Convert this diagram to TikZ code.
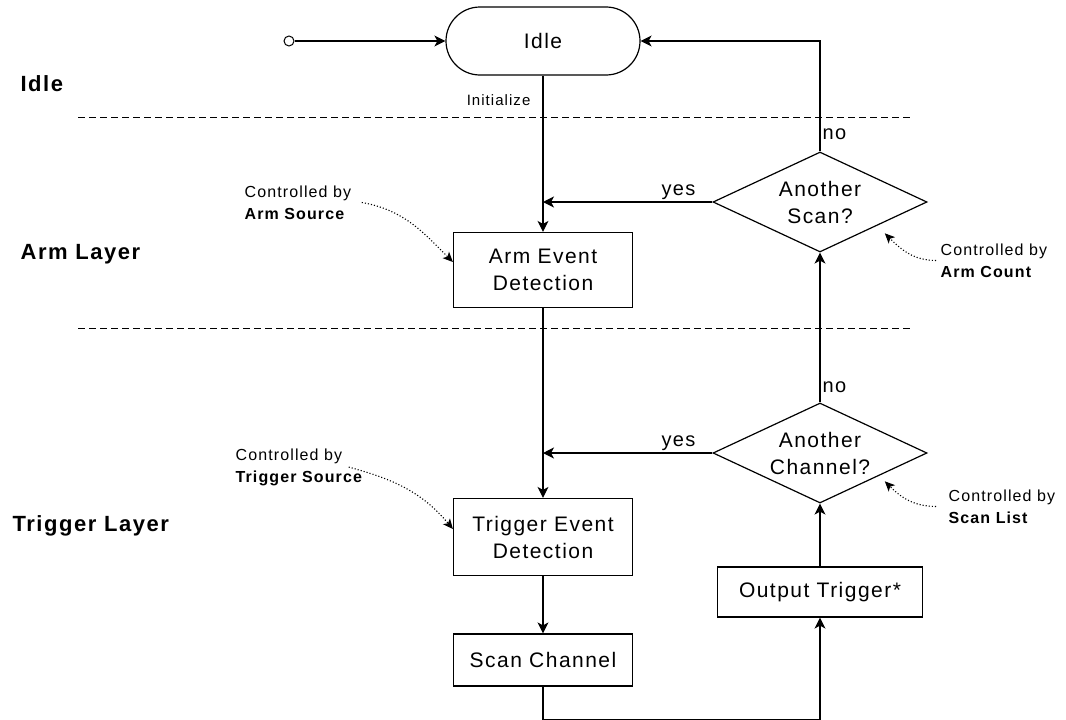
\documentclass[tikz,border=0pt]{standalone}
\usepackage{fontspec}
\setmainfont{Liberation Sans}[LetterSpace=7]
\usepackage{tikz}
\usetikzlibrary{arrows.meta,positioning,shapes.geometric}
\newcommand{\boxfont}{\fontsize{21}{27}\selectfont}
\newcommand{\notefont}{\fontsize{16}{22}\selectfont}
\newcommand{\lblfont}{\fontsize{20}{24}\selectfont}
\newcommand{\layerfont}{\fontsize{22}{26}\selectfont\bfseries}

\begin{document}
\begin{tikzpicture}[x=1pt, y=1pt, line width=1.2pt,
  every node/.style={font=\boxfont},
  block/.style={draw, minimum width=179pt, align=center, inner sep=0pt},
  decision/.style={draw, diamond, aspect=2.14, minimum width=214pt, minimum height=100pt, inner sep=0pt, align=center},
  flow/.style={-{Stealth[length=11pt, width=11pt, inset=3pt]}},
  note/.style={dotted, line width=1.1pt, -{Stealth[length=10pt, width=9pt, inset=2.5pt]}},
  notetext/.style={font=\notefont, align=left, anchor=north west, inner sep=0pt},
  layer/.style={font=\layerfont, anchor=base west, inner sep=0pt},
  lbl/.style={font=\lblfont, inner sep=2pt}]
\fill[white] (0,0) rectangle (1066,-720);
\useasboundingbox (0,0) rectangle (1066,-720);
% layer separators
\foreach \y in {117,328}{
  \draw[line width=1pt, dash pattern=on 7pt off 4pt] (78,-\y) -- (910,-\y);
}
% layer names
\node[layer] (lidle) at (20,-91) {Idle};
\node[layer] (larm) at (20,-259) {Arm Layer};
\node[layer] (ltrig) at (12,-531) {Trigger Layer};
% states
\node[circle, draw, line width=1pt, minimum size=10pt, inner sep=0pt] (start) at (289,-41) {};
\node[draw, rounded corners=34pt, minimum width=194pt, minimum height=68pt] (idle) at (543,-41) {Idle};
\node[block, minimum height=75pt] (armdet) at (543,-270) {Arm Event\\Detection};
\node[block, minimum height=77pt] (trigdet) at (543,-537) {Trigger Event\\Detection};
\node[block, minimum height=52pt] (scanch) at (543,-660) {Scan Channel};
\node[block, minimum width=205pt, minimum height=50pt] (outtrig) at (820,-592) {Output Trigger*};
\node[decision] (morescan) at (820,-202) {Another\\Scan?};
\node[decision] (morechan) at (820,-453) {Another\\Channel?};
% main flow
\draw[flow] (start) -- (idle.west);
\draw[flow] (idle) -- node[lbl, pos=0.16, left=10pt, font=\fontsize{15}{18}\selectfont] {Initialize} (armdet);
\draw[flow] (armdet) -- (trigdet);
\draw[flow] (trigdet) -- (scanch);
\draw[flow] (scanch.south) -- ++(0,-33) -| (outtrig.south);
\draw[flow] (outtrig) -- (morechan);
\draw[flow] (morechan.north) -- node[lbl, pos=0.1, right] {no} (morescan.south);
\draw[flow] (morechan.west) -- node[lbl, pos=0.2, above] {yes} (trigdet.north |- morechan.west);
\draw[flow] (morescan.west) -- node[lbl, pos=0.2, above] {yes} (armdet.north |- morescan.west);
\draw[flow] (morescan.north) |- node[lbl, pos=0.08, right] {no} (idle.east);
% who controls what
\node[notetext] (armsrc) at (244,-185) {Controlled by\\\textbf{Arm Source}};
\node[notetext] (trgsrc) at (235,-448) {Controlled by\\\textbf{Trigger Source}};
\node[notetext] (armcnt) at (940,-243) {Controlled by\\\textbf{Arm Count}};
\node[notetext] (scnlst) at (948,-489) {Controlled by\\\textbf{Scan List}};
\draw[note] ([xshift=10pt]armsrc.east) to[out=-10, in=135] ([yshift=8pt]armdet.west);
\draw[note] ([shift={(-15pt,0pt)}]trgsrc.east) to[out=-15, in=130] ([yshift=8pt]trigdet.west);
\draw[note] ([xshift=-4pt]armcnt.west) to[out=180, in=-45] ([shift={(11pt,-6pt)}]morescan.south east);
\draw[note] ([xshift=-12pt]scnlst.west) to[out=180, in=-45] ([shift={(11pt,-3pt)}]morechan.south east);
\end{tikzpicture}
\end{document}
